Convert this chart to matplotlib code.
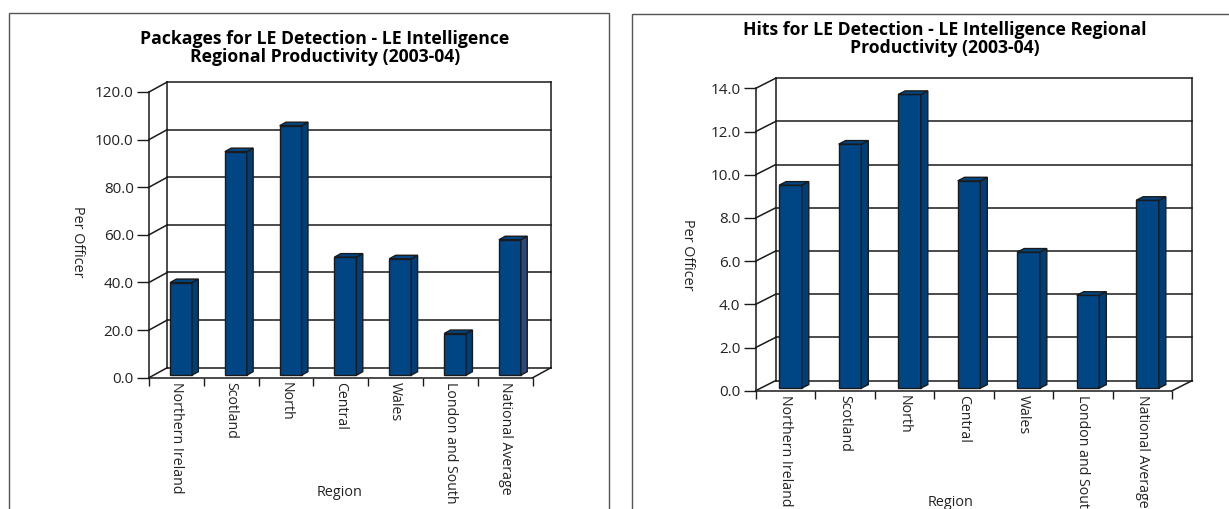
import matplotlib.pyplot as plt
from matplotlib.patches import Polygon, Rectangle

plt.rcParams['font.family'] = ['Open Sans', 'DejaVu Sans']

regions = ['Northern Ireland', 'Scotland', 'North', 'Central', 'Wales',
           'London and South', 'National Average']
packages = [38.9, 93.9, 104.8, 49.6, 48.9, 17.5, 56.9]
hits = [9.4, 11.3, 13.6, 9.6, 6.3, 4.3, 8.7]
package_ticks = [0, 20, 40, 60, 80, 100, 120]
hit_ticks = [0, 2, 4, 6, 8, 10, 12, 14]

FRONT = '#004685'
SIDE = '#003e78'
EDGE = '#1a1a1a'
TEXT = '#222222'
W, H = 1229, 509


def px_axes(fig, left, right, top, bottom):
    # axes box given in pixel coordinates of the figure
    return fig.add_axes([left / W, 1 - bottom / H, (right - left) / W, (bottom - top) / H])


def draw_panel(ax, values, ticks, dx, dy, width, last_side=SIDE):
    n = len(values)
    ymax = ticks[-1]
    ax.set_xlim(0, n + dx)
    ax.set_ylim(0, ymax + dy)
    for s in ax.spines.values():
        s.set_visible(False)

    line = dict(color=EDGE, lw=1.1, clip_on=False, zorder=1)
    # walls and floor
    ax.plot([0, 0], [0, ymax], **line)
    ax.plot([dx, dx], [dy, ymax + dy], **line)
    ax.plot([n + dx, n + dx], [dy, ymax + dy], **line)
    ax.plot([0, n], [0, 0], **line)
    ax.plot([n, n + dx], [0, dy], **line)
    for t in ticks:
        ax.plot([0, dx], [t, t + dy], **line)
        ax.plot([dx, n + dx], [t + dy, t + dy], **line)

    # 3d-looking columns
    f, depth = 0.25, 0.35
    base = f * dy
    x0 = [i + 0.5 - width / 2 + f * dx for i in range(n)]
    ax.bar(x0, values, width=width, bottom=base, align='edge', color=FRONT,
           edgecolor=EDGE, lw=1, zorder=3)
    for i, (x, v) in enumerate(zip(x0, values)):
        ddx, ddy = depth * dx, depth * dy
        side = [(x + width, base), (x + width + ddx, base + ddy),
                (x + width + ddx, base + v + ddy), (x + width, base + v)]
        topf = [(x, base + v), (x + width, base + v),
                (x + width + ddx, base + v + ddy), (x + ddx, base + v + ddy)]
        sc = last_side if i == n - 1 else SIDE
        ax.add_patch(Polygon(side, closed=True, fc=sc, ec=EDGE, lw=1, zorder=3))
        ax.add_patch(Polygon(topf, closed=True, fc=FRONT, ec=EDGE, lw=1, zorder=3))

    ax.set_yticks(ticks, [f'{t:.1f}' for t in ticks])
    ax.tick_params(axis='y', direction='out', length=9, width=1, pad=2,
                   labelsize=11, colors=EDGE, labelcolor=TEXT)
    ax.set_xticks(range(n + 1), [''] * (n + 1))
    ax.tick_params(axis='x', which='major', direction='out', length=6, width=1, colors=EDGE)
    ax.set_xticks([i + 0.5 for i in range(n)], minor=True)
    ax.set_xticklabels(regions, minor=True, rotation=-90, fontsize=10.2, color=TEXT)
    ax.tick_params(axis='x', which='minor', length=0, pad=3)


fig = plt.figure(figsize=(W / 100, H / 100), dpi=100)

# panel frames
fig.patches.append(Rectangle((9 / W, -0.1), 600 / W, 1.1 - 13.5 / H, transform=fig.transFigure,
                             fill=False, ec='#555555', lw=1))
fig.patches.append(Rectangle((632 / W, -0.1), 620 / W, 1.1 - 14 / H, transform=fig.transFigure,
                             fill=False, ec='#555555', lw=1))

ax1 = px_axes(fig, 149, 551, 82, 377.7)
draw_panel(ax1, packages, package_ticks, dx=0.333, dy=4.2, width=0.4, last_side='#2b4a7b')

ax2 = px_axes(fig, 755.7, 1192.3, 78.2, 390.7)
draw_panel(ax2, hits, hit_ticks, dx=0.337, dy=0.47, width=0.38)

fig.text(325 / W, 1 - 47.5 / H, 'Packages for LE Detection - LE Intelligence\nRegional Productivity (2003-04)',
         ha='center', va='center', fontsize=12.7, fontweight='bold', linespacing=1.0)
fig.text(945 / W, 1 - 39 / H, 'Hits for LE Detection - LE Intelligence Regional\nProductivity (2003-04)',
         ha='center', va='center', fontsize=12.7, fontweight='bold', linespacing=1.0)

fig.text(77 / W, 1 - 242 / H, 'Per Officer', rotation=-90, ha='center', va='center',
         fontsize=10.4, color=TEXT)
fig.text(688 / W, 1 - 255 / H, 'Per Officer', rotation=-90, ha='center', va='center',
         fontsize=10.4, color=TEXT)
fig.text(340 / W, 1 - 492 / H, 'Region', ha='center', va='center', fontsize=10.4, color=TEXT)
fig.text(951 / W, 1 - 503 / H, 'Region', ha='center', va='center', fontsize=10.4, color=TEXT)

fig.savefig('out.png', dpi=100)
